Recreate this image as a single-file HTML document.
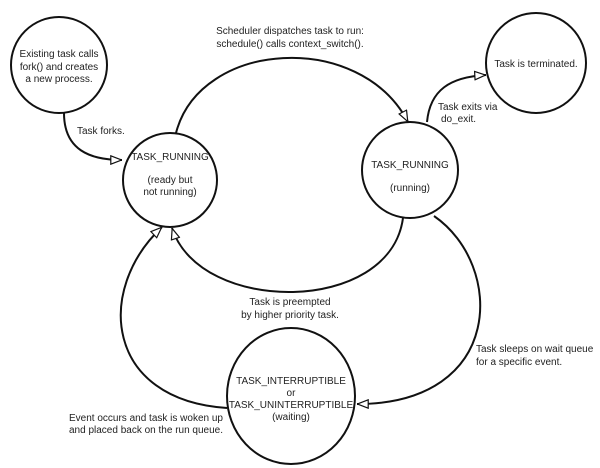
<!DOCTYPE html>
<html><head><meta charset="utf-8"><style>
html,body{margin:0;padding:0;background:#fff;}
svg{display:block;}
text{font-family:"Liberation Sans",Arial,sans-serif;font-size:10px;fill:#222;}
</style></head><body>
<svg width="600" height="468" viewBox="0 0 600 468" xmlns="http://www.w3.org/2000/svg">
<defs>
<marker id="ar" viewBox="0 0 12 10" refX="12" refY="5" markerWidth="12" markerHeight="10" markerUnits="userSpaceOnUse" orient="auto">
<path d="M0.8,0.8 L11.5,5 L0.8,9.2 Z" fill="#fff" stroke="#111" stroke-width="1.2"/>
</marker>
</defs>
<g fill="none" stroke="#111" stroke-width="2">
<circle cx="59" cy="65" r="48"/>
<circle cx="170" cy="180" r="47"/>
<circle cx="410" cy="170" r="48"/>
<circle cx="536" cy="63" r="50"/>
<ellipse cx="291" cy="396" rx="64" ry="68"/>
<path d="M64 113 C64 150 90 160 122 160" marker-end="url(#ar)"/>
<path d="M176 133 C200 40 360 30 408 122" marker-end="url(#ar)"/>
<path d="M427 122 C430 90 450 77 486 75" marker-end="url(#ar)"/>
<path d="M403 218 C390 315 200 315 172 228" marker-end="url(#ar)"/>
<path d="M434 216 C505 265 505 404 357 404" marker-end="url(#ar)"/>
<path d="M227 408 C105 400 95 290 162 227" marker-end="url(#ar)"/>
</g>
<g text-anchor="middle">
<text x="59" y="57">Existing task calls</text>
<text x="59" y="70">fork() and creates</text>
<text x="59" y="82">a new process.</text>
<text x="170" y="160">TASK_RUNNING</text>
<text x="170" y="183">(ready but</text>
<text x="170" y="195">not running)</text>
<text x="410" y="168">TASK_RUNNING</text>
<text x="410" y="191">(running)</text>
<text x="536" y="67">Task is terminated.</text>
<text x="290" y="34">Scheduler dispatches task to run:</text>
<text x="290" y="47">schedule() calls context_switch().</text>
<text x="290" y="305">Task is preempted</text>
<text x="290" y="318">by higher priority task.</text>
<text x="291" y="384">TASK_INTERRUPTIBLE</text>
<text x="291" y="396">or</text>
<text x="291" y="408">TASK_UNINTERRUPTIBLE</text>
<text x="291" y="420">(waiting)</text>
</g>
<text x="77" y="134">Task forks.</text>
<text x="438" y="110">Task exits via</text>
<text x="441" y="122">do_exit.</text>
<text x="476" y="352">Task sleeps on wait queue</text>
<text x="476" y="365">for a specific event.</text>
<text x="69" y="421">Event occurs and task is woken up</text>
<text x="69" y="433">and placed back on the run queue.</text>
</svg>
</body></html>
